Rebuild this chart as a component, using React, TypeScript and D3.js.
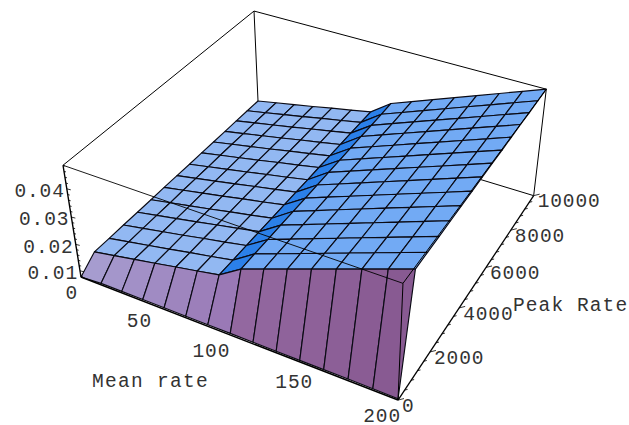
import React from "react";
import * as d3 from "d3";

const meanRates = [0, 14.29, 28.57, 42.86, 57.14, 71.43, 85.71, 100, 114.29, 128.57, 142.86, 157.14, 171.43, 185.71, 200];
const peakRates = [0, 714, 1429, 2143, 2857, 3571, 4286, 5000, 5714, 6429, 7143, 7857, 8571, 9286, 10000];
const surface = [
  [0.0076, 0.0082, 0.0082, 0.0082, 0.0082, 0.0082, 0.0082, 0.0082, 0.0082, 0.0082, 0.0082, 0.0082, 0.0082, 0.0082, 0.0081],
  [0.0119, 0.0134, 0.0149, 0.0164, 0.018, 0.0195, 0.0211, 0.0262, 0.0292, 0.0322, 0.0352, 0.0382, 0.0412, 0.0442, 0.0472],
  [0.0119, 0.0134, 0.0149, 0.0164, 0.018, 0.0195, 0.0211, 0.0263, 0.0293, 0.0323, 0.0353, 0.0383, 0.0413, 0.0443, 0.0473],
  [0.012, 0.0135, 0.015, 0.0165, 0.0181, 0.0196, 0.0212, 0.0263, 0.0293, 0.0323, 0.0353, 0.0383, 0.0413, 0.0443, 0.0473],
  [0.012, 0.0135, 0.015, 0.0165, 0.0181, 0.0196, 0.0212, 0.0264, 0.0294, 0.0324, 0.0354, 0.0384, 0.0414, 0.0444, 0.0474],
  [0.012, 0.0135, 0.015, 0.0165, 0.0181, 0.0196, 0.0212, 0.0265, 0.0295, 0.0325, 0.0355, 0.0385, 0.0415, 0.0445, 0.0475],
  [0.0121, 0.0136, 0.0151, 0.0166, 0.0182, 0.0197, 0.0213, 0.0265, 0.0295, 0.0325, 0.0355, 0.0385, 0.0415, 0.0445, 0.0475],
  [0.0121, 0.0136, 0.0151, 0.0166, 0.0182, 0.0197, 0.0213, 0.0266, 0.0296, 0.0326, 0.0356, 0.0386, 0.0416, 0.0446, 0.0476],
  [0.0121, 0.0136, 0.0151, 0.0166, 0.0182, 0.0197, 0.0213, 0.0267, 0.0297, 0.0327, 0.0357, 0.0387, 0.0417, 0.0447, 0.0477],
  [0.0122, 0.0137, 0.0152, 0.0167, 0.0183, 0.0198, 0.0214, 0.0267, 0.0297, 0.0327, 0.0357, 0.0387, 0.0417, 0.0447, 0.0477],
  [0.0122, 0.0137, 0.0152, 0.0167, 0.0183, 0.0198, 0.0214, 0.0268, 0.0298, 0.0328, 0.0358, 0.0388, 0.0418, 0.0448, 0.0478],
  [0.0122, 0.0137, 0.0152, 0.0167, 0.0183, 0.0198, 0.0214, 0.0269, 0.0299, 0.0329, 0.0359, 0.0389, 0.0419, 0.0449, 0.0479],
  [0.0123, 0.0138, 0.0153, 0.0168, 0.0184, 0.0199, 0.0215, 0.0269, 0.0299, 0.0329, 0.0359, 0.0389, 0.0419, 0.0449, 0.0479],
  [0.0123, 0.0138, 0.0153, 0.0168, 0.0184, 0.0199, 0.0215, 0.027, 0.03, 0.033, 0.036, 0.039, 0.042, 0.045, 0.048],
  [0.0123, 0.0138, 0.0153, 0.0168, 0.0184, 0.0199, 0.0215, 0.0271, 0.0301, 0.0331, 0.0361, 0.0391, 0.0421, 0.0451, 0.0481],
];
const zDomain = [0.0076, 0.0481];
const meanTicks = [0, 50, 100, 150, 200];
const peakTicks = [0, 2000, 4000, 6000, 8000, 10000];
const peakMinorTicks = d3.range(0, 10001, 400);
const zTicks = [0.01, 0.02, 0.03, 0.04];
const zMinorTicks = d3.range(0.008, 0.0481, 0.002);

const FONT = "'Liberation Mono', monospace";
const LABEL = "#333333";

const meanScale = d3.scaleLinear().domain([0, 200]).range([0, 1]);
const peakScale = d3.scaleLinear().domain([0, 10000]).range([0, 1]);
const zScale = d3.scaleLinear().domain(zDomain).range([0, 1]);
const meanLabelShift = d3.scaleLinear().domain([0, 200]).range([-3, 3]);

// perspective camera expressed as origin plus three weighted vanishing points
const origin = [81, 277];
const vanishX = [-2500, -725];
const vanishY = [1120, -688];
const vanishZ = [336, 1861];
const weightX = -0.10939;
const weightY = 0.20604;
const weightZ = -0.0659;

function cube(u: number, v: number, w: number): [number, number] {
  const a = u * weightX, b = v * weightY, c = w * weightZ;
  const h = 1 + a + b + c;
  return [
    (origin[0] + a * vanishX[0] + b * vanishY[0] + c * vanishZ[0]) / h,
    (origin[1] + a * vanishX[1] + b * vanishY[1] + c * vanishZ[1]) / h,
  ];
}
const project = (mean: number, peak: number, z: number) =>
  cube(meanScale(mean), peakScale(peak), zScale(z));

const line = d3.line();
const frontColor = d3.scaleLinear<string>()
  .domain([0, 6, 7, 13])
  .range(["#a69ccf", "#9a79b6", "#9368a0", "#885a92"]);

function quadFill(i: number, j: number) {
  if (j === 0) return frontColor(i);
  if (i === 6) return "#2b80e9";
  return i < 6 ? "#92b8f2" : "#72aaf4";
}

export default function App() {
  const quads: React.ReactNode[] = [];
  for (let j = peakRates.length - 2; j >= 0; j--) {
    for (let i = 0; i < meanRates.length - 1; i++) {
      const pts = [
        project(meanRates[i], peakRates[j], surface[j][i]),
        project(meanRates[i + 1], peakRates[j], surface[j][i + 1]),
        project(meanRates[i + 1], peakRates[j + 1], surface[j + 1][i + 1]),
        project(meanRates[i], peakRates[j + 1], surface[j + 1][i]),
      ];
      quads.push(
        <path key={`${i}-${j}`} d={line(pts) + "Z"} fill={quadFill(i, j)}
          stroke="#0a0a14" strokeWidth={1.15} strokeLinejoin="round" />
      );
    }
  }
  const [zLo, zHi] = zDomain;
  const A = project(0, 0, zLo), B = project(200, 0, zLo), C = project(200, 10000, zLo), D = project(0, 10000, zLo);
  const A2 = project(0, 0, zHi), B2 = project(200, 0, zHi), C2 = project(200, 10000, zHi), D2 = project(0, 10000, zHi);
  const edge = (p: number[], q: number[], w = 1) => (
    <line x1={p[0]} y1={p[1]} x2={q[0]} y2={q[1]} stroke="#000" strokeWidth={w} />
  );
  const textStyle = { fontFamily: FONT, fontSize: 19.5, letterSpacing: 0.9, fill: LABEL };
  return (
    <svg width={629} height={425} style={{ position: "absolute", left: 0, top: 0, background: "#fff" }}>
      {/* back of the box */}
      {edge(A2, D2)}{edge(D2, C2)}{edge(D2, D)}{edge(D, C)}{edge(C, C2)}
      {quads}
      {/* front of the box */}
      {edge(A2, B2, 0.9)}{edge(B2, B, 1)}{edge(B2, C2, 1)}
      {edge(A, A2, 1.4)}{edge(A, B, 1.5)}{edge(B, C, 1.3)}
      {peakMinorTicks.map((p) => {
        const [x, y] = project(200, p, zLo);
        const len = p % 2000 === 0 ? 6 : 3;
        return <line key={"pt" + p} x1={x} y1={y} x2={x + len} y2={y - len * 0.25} stroke="#000" strokeWidth={0.8} />;
      })}
      {zMinorTicks.map((z) => {
        const [x, y] = project(0, 0, z);
        const len = Math.abs(z * 100 - Math.round(z * 100)) < 1e-6 ? 4 : 2;
        return <line key={"zt" + z} x1={x} y1={y} x2={x + len} y2={y + len * 0.25} stroke="#000" strokeWidth={0.8} />;
      })}
      {zTicks.map((z) => {
        const [x, y] = project(0, 0, z);
        return <text key={z} x={x - 2} y={y + 1.5} dy="0.35em" textAnchor="end" {...textStyle}>{z.toFixed(2)}</text>;
      })}
      {meanTicks.map((m) => {
        const [x, y] = project(m, 0, zLo);
        return <text key={m} x={x + meanLabelShift(m)} y={y + 15} dy="0.35em" textAnchor="end" {...textStyle}>{m}</text>;
      })}
      {peakTicks.map((p) => {
        const [x, y] = project(200, p, zLo);
        return <text key={p} x={x + 4} y={y + 5} dy="0.35em" {...textStyle}>{p}</text>;
      })}
      <text x={92} y={380} dy="0.35em" {...textStyle} letterSpacing={1.3}>Mean rate</text>
      <text x={513} y={304} dy="0.35em" {...textStyle} letterSpacing={1.1}>Peak Rate</text>
    </svg>
  );
}
